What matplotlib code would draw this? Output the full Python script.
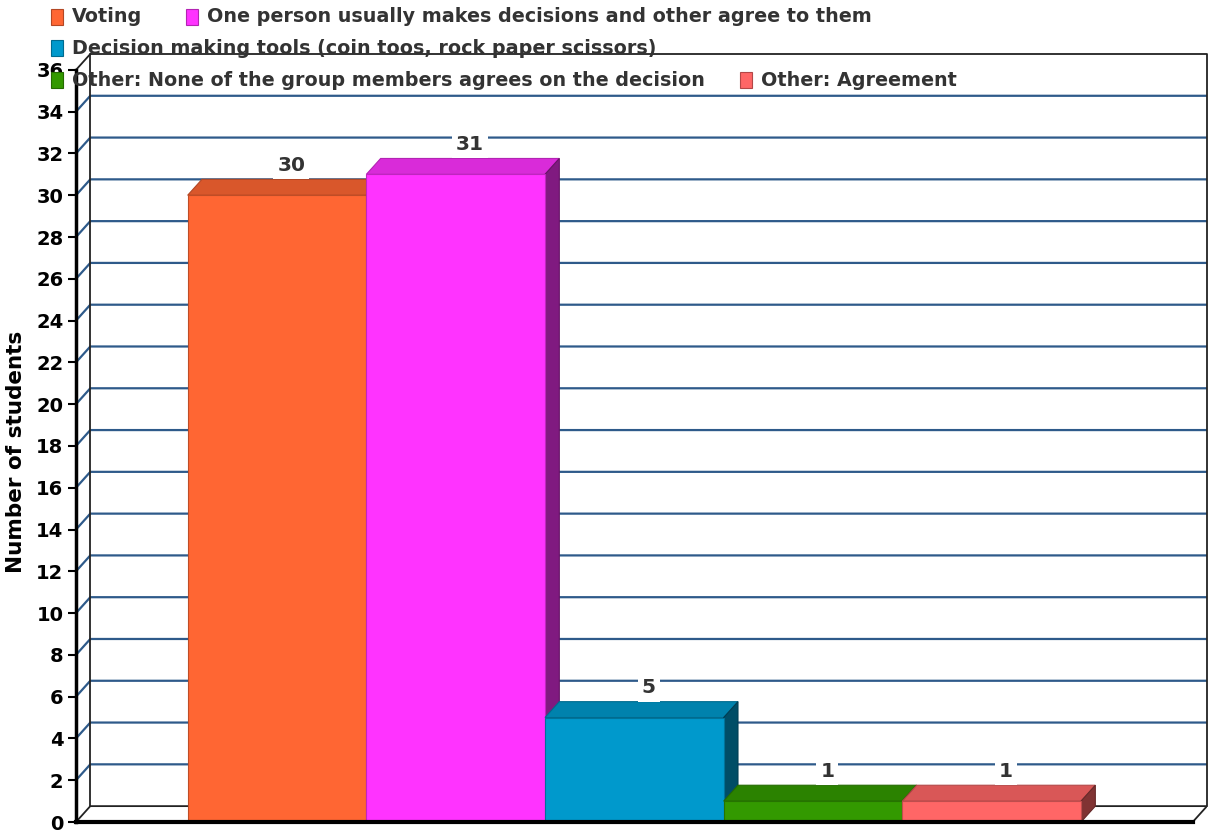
import matplotlib.pyplot as plt
from matplotlib.patches import Rectangle, Polygon
from matplotlib.colors import to_rgb

# survey answers
categories = ['Voting',
              'One person usually makes decisions and other agree to them',
              'Decision making tools (coin toos, rock paper scissors)',
              'Other: None of the group members agrees on the decision',
              'Other: Agreement']
counts = [30, 31, 5, 1, 1]
colors = ['#FF6633', '#FF33FF', '#0099CC', '#339900', '#FF6666']
yticks = list(range(0, 37, 2))

plt.rcParams['font.family'] = ['DejaVu Sans']
plt.rcParams['font.weight'] = 'bold'
plt.rcParams['axes.labelweight'] = 'bold'

# fake 3d depth (data units)
dx, dy = 0.08, 0.76
margin = 0.625
x_end = 2 * margin + len(counts)
y_top = 36


def shade(c, f):
    r, g, b = to_rgb(c)
    return (r * f, g * f, b * f)


fig = plt.figure(figsize=(12.09, 8.32), dpi=100)
W, H = 1209, 832
ax = fig.add_axes([76 / W, 10 / H, 1131 / W, 768 / H])
ax.set_xlim(0, x_end + dx)
ax.set_ylim(0, y_top + dy)

# back wall, floor and left wall
grid_c = '#2E5A8A'
for v in yticks[1:-1]:
    ax.plot([0, dx, x_end + dx], [v, v + dy, v + dy], color=grid_c, lw=1.6, zorder=1)
ax.plot([dx, dx, x_end + dx, x_end + dx], [dy, y_top + dy, y_top + dy, dy],
        color='#222222', lw=1.3, zorder=1, clip_on=False)
ax.plot([0, dx, x_end + dx, x_end], [0, dy, dy, 0], color='#222222', lw=1.3, zorder=1)
ax.plot([0, dx], [y_top, y_top + dy], color='#222222', lw=1.3, zorder=1, clip_on=False)

# bars
for i, (v, c) in enumerate(zip(counts, colors)):
    x0 = margin + i
    z = 3 + i
    ax.add_patch(Polygon([(x0, v), (x0 + dx, v + dy), (x0 + 1 + dx, v + dy), (x0 + 1, v)],
                         closed=True, fc=shade(c, 0.85), ec=shade(c, 0.7), lw=0.8, zorder=z))
    ax.add_patch(Polygon([(x0 + 1, 0), (x0 + 1 + dx, dy), (x0 + 1 + dx, v + dy), (x0 + 1, v)],
                         closed=True, fc=shade(c, 0.5), ec=shade(c, 0.4), lw=0.8, zorder=z))
    ax.add_patch(Rectangle((x0, 0), 1, v, fc=c, ec=shade(c, 0.75), lw=0.8, zorder=z))
    ax.annotate(str(v), (x0 + 0.5 + dx, v + dy), xytext=(0, 3), textcoords='offset points',
                ha='center', va='bottom', fontsize=14.5, color='#333333', zorder=10,
                bbox=dict(boxstyle='square,pad=0.2', fc='white', ec='none'))

# axes
for s in ['top', 'right']:
    ax.spines[s].set_visible(False)
ax.spines['left'].set_bounds(0, y_top)
ax.spines['left'].set_linewidth(2.5)
ax.spines['bottom'].set_bounds(0, x_end)
ax.spines['bottom'].set_linewidth(3)
ax.spines['left'].set_zorder(20)
ax.spines['bottom'].set_zorder(20)
ax.set_xticks([])
ax.set_yticks(yticks)
ax.tick_params(axis='y', length=6, width=1.5, pad=3, labelsize=14, labelcolor='black')
ax.set_ylabel('Number of students', fontsize=15.5)
ax.yaxis.set_label_coords(-0.044, 0.482)

# legend
legend_pos = [(51, 17), (186, 17), (51, 48), (51, 80), (740, 80)]
for (px, py), name, c in zip(legend_pos, categories, colors):
    fig.patches.append(Rectangle((px / W, 1 - (py + 8) / H), 12 / W, 16 / H,
                                 transform=fig.transFigure, fc=c, ec=shade(c, 0.7), lw=0.8))
    fig.text((px + 21) / W, 1 - py / H, name, ha='left', va='center',
             fontsize=13.8, color='#333333')

fig.savefig('out.png', dpi=100)
